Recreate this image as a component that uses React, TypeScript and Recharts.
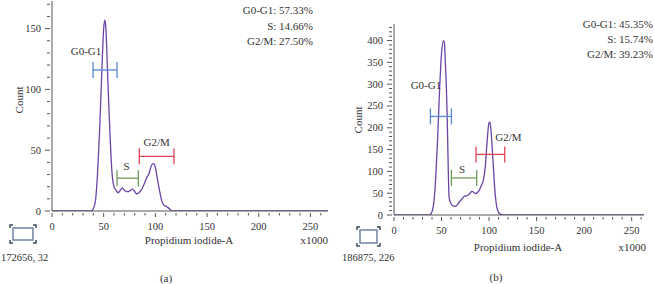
import React from 'react';
import { ComposedChart, Line, XAxis, YAxis, ReferenceLine } from 'recharts';

const FONT = '"Liberation Serif", "DejaVu Serif", serif';
const AXIS = '#555';
const TEXT = '#333';
const CURVE = '#6a45a8';

// panel (a): PI-A channel (x1000) vs count
const piA = [0, 20, 38, 40, 42, 44, 46, 48, 50, 51, 52, 54, 56, 58, 60, 62, 64, 66, 68, 70, 72, 74, 76, 78, 80, 82, 84, 86, 88, 90, 92, 94, 96, 98, 100, 102, 104, 106, 108, 110, 112, 114, 116, 120, 200, 267];
const countA = [0, 0, 0, 2, 8, 30, 65, 110, 150, 157, 152, 108, 65, 32, 20, 17, 15, 17, 19, 17, 16, 16, 17, 18, 16, 14, 15, 17, 20, 24, 28, 31, 37, 39, 36, 26, 17, 9, 5, 4, 3, 1.5, 0, 0, 0, 0];

// panel (b)
const piB = [0, 20, 36, 38, 40, 42, 44, 46, 48, 50, 52, 53, 54, 55, 56, 58, 60, 62, 64, 66, 68, 70, 72, 74, 76, 78, 80, 82, 84, 86, 88, 90, 92, 94, 96, 98, 100, 101, 102, 104, 106, 108, 110, 112, 114, 120, 200, 263];
const countB = [0, 0, 0, 1, 8, 30, 90, 180, 290, 370, 400, 395, 350, 300, 220, 40, 26, 21, 20, 22, 28, 33, 38, 43, 44, 46, 50, 54, 52, 49, 52, 58, 68, 80, 110, 170, 212, 213, 195, 130, 60, 20, 6, 2, 0, 0, 0, 0];

// cell-cycle gates
const gateNames = ['G0-G1', 'S', 'G2/M'];
const gateColors = ['#5b86d4', '#6f9a5e', '#e04455'];
const gateFromA = [39.7, 62.9, 84.5];
const gateToA = [62.9, 83.5, 118];
const gateLevelA = [116, 27, 45];
const gateFromB = [38.3, 60.4, 86.3];
const gateToB = [60.4, 87, 116.5];
const gateLevelB = [226, 85, 139];

const statsA = ['G0-G1: 57.33%', 'S: 14.66%', 'G2/M: 27.50%'];
const statsB = ['G0-G1: 45.35%', 'S: 15.74%', 'G2/M: 39.23%'];

const xTicks = [0, 10, 20, 30, 40, 50, 60, 70, 80, 90, 100, 110, 120, 130, 140, 150, 160, 170, 180, 190, 200, 210, 220, 230, 240, 250, 260];
const yTicksA = [0, 10, 20, 30, 40, 50, 60, 70, 80, 90, 100, 110, 120, 130, 140, 150, 160, 170];
const yTicksB = [0, 10, 20, 30, 40, 50, 60, 70, 80, 90, 100, 110, 120, 130, 140, 150, 160, 170, 180, 190, 200, 210, 220, 230, 240, 250, 260, 270, 280, 290, 300, 310, 320, 330, 340, 350, 360, 370, 380, 390, 400, 410, 420, 430];

// label offsets (px) from the gate centre
const labelOffA = [[-19, -19], [-1, -12], [0, -14]];
const labelOffB = [[-15, -31], [-2, -9], [18, -17]];

const dataA = piA.map((x, i) => ({ x, count: countA[i] }));
const dataB = piB.map((x, i) => ({ x, count: countB[i] }));

const XTick = ({ x, y, payload }: any) => {
  const major = payload.value % 50 === 0;
  return (
    <g>
      <line x1={x} x2={x} y1={y} y2={y + (major ? 4 : 2.5)} stroke={AXIS} />
      {major && (
        <text x={x} y={y + 13} textAnchor="middle" dominantBaseline="central" fontSize={10.5} fontFamily={FONT} fill={TEXT}>
          {payload.value}
        </text>
      )}
    </g>
  );
};

const YTick = ({ x, y, payload }: any) => {
  const major = payload.value % 50 === 0;
  return (
    <g>
      <line x1={x} x2={x - (major ? 5 : 3)} y1={y} y2={y} stroke={AXIS} />
      {major && (
        <text x={x - 9} y={y} textAnchor="end" dominantBaseline="central" fontSize={10.5} fontFamily={FONT} fill={TEXT}>
          {payload.value}
        </text>
      )}
    </g>
  );
};

const gateShape = (name: string, color: string, off: number[]) => (props: any) => {
  const { x1, y1, x2, y2 } = props;
  const cx = (x1 + x2) / 2;
  return (
    <g>
      <line x1={x1} x2={x2} y1={y1} y2={y2} stroke={color} strokeWidth={1.3} />
      <line x1={x1} x2={x1} y1={y1 - 8} y2={y1 + 8} stroke={color} strokeWidth={1.3} />
      <line x1={x2} x2={x2} y1={y2 - 8} y2={y2 + 8} stroke={color} strokeWidth={1.3} />
      <text x={cx + off[0]} y={y1 + off[1]} textAnchor="middle" dominantBaseline="central" fontSize={11} fontFamily={FONT} fill={TEXT}>
        {name}
      </text>
    </g>
  );
};

const Panel = ({ data, width, height, top, yWidth, xMax, yMax, yTicks, from, to, level, offs }: any) => (
  <ComposedChart width={width} height={height} data={data} margin={{ top, right: 0, bottom: 0, left: 0 }}>
    <XAxis
      type="number"
      dataKey="x"
      domain={[0, xMax]}
      ticks={xTicks}
      interval={0}
      height={30}
      tickSize={0}
      tickLine={false}
      axisLine={{ stroke: AXIS }}
      tick={<XTick />}
      allowDataOverflow
    />
    <YAxis
      type="number"
      domain={[0, yMax]}
      ticks={yTicks}
      interval={0}
      width={yWidth}
      tickSize={0}
      tickLine={false}
      axisLine={{ stroke: AXIS }}
      tick={<YTick />}
      allowDataOverflow
    />
    <Line type="monotone" dataKey="count" stroke={CURVE} strokeWidth={1.3} dot={false} isAnimationActive={false} />
    {gateNames.map((g, i) => (
      <ReferenceLine
        key={g}
        segment={[{ x: from[i], y: level[i] }, { x: to[i], y: level[i] }]}
        shape={gateShape(g, gateColors[i], offs[i])}
        ifOverflow="visible"
      />
    ))}
  </ComposedChart>
);

const GateIcon = ({ x, y, w, h }: any) => (
  <g>
    <rect x={x} y={y} width={w} height={h} fill="#fff" stroke="#6f82a0" strokeWidth={1.5} />
    <path
      d={`M${x - 3} ${y}v-3h3 M${x + w} ${y - 3}h3v3 M${x - 3} ${y + h}v3h3 M${x + w} ${y + h + 3}h3v-3`}
      fill="none"
      stroke="#3e4c5e"
      strokeWidth={1.5}
    />
  </g>
);

const txt = { fontFamily: FONT, fontSize: 11, fill: TEXT } as const;

export default function App() {
  return (
    <div style={{ position: 'absolute', left: 0, top: 0, width: 654, height: 284, background: '#fff', fontFamily: FONT }}>
      <div style={{ position: 'absolute', left: 0, top: 0 }}>
        <Panel
          data={dataA}
          width={328}
          height={241}
          top={1}
          yWidth={52}
          xMax={267}
          yMax={172.7}
          yTicks={yTicksA}
          from={gateFromA}
          to={gateToA}
          level={gateLevelA}
          offs={labelOffA}
        />
      </div>
      <div style={{ position: 'absolute', left: 340, top: 0 }}>
        <Panel
          data={dataB}
          width={304}
          height={245}
          top={24}
          yWidth={54}
          xMax={263}
          yMax={438}
          yTicks={yTicksB}
          from={gateFromB}
          to={gateToB}
          level={gateLevelB}
          offs={labelOffB}
        />
      </div>
      <svg width={654} height={284} style={{ position: 'absolute', left: 0, top: 0, pointerEvents: 'none' }}>
        {statsA.map((s, i) => (
          <text key={s} x={313} y={10 + i * 15.6} textAnchor="end" dominantBaseline="central" {...txt}>{s}</text>
        ))}
        {statsB.map((s, i) => (
          <text key={s} x={653} y={24 + i * 15.2} textAnchor="end" dominantBaseline="central" {...txt}>{s}</text>
        ))}
        <text x={19} y={100} textAnchor="middle" dominantBaseline="central" transform="rotate(-90 19 100)" {...txt}>Count</text>
        <text x={358} y={120} textAnchor="middle" dominantBaseline="central" transform="rotate(-90 358 120)" {...txt}>Count</text>
        <text x={189} y={240} textAnchor="middle" dominantBaseline="central" {...txt}>Propidium iodide-A</text>
        <text x={328} y={240} textAnchor="end" dominantBaseline="central" {...txt}>x1000</text>
        <text x={518} y={247} textAnchor="middle" dominantBaseline="central" {...txt}>Propidium iodide-A</text>
        <text x={646} y={247} textAnchor="end" dominantBaseline="central" {...txt}>x1000</text>
        <GateIcon x={13} y={228} w={20} h={12} />
        <GateIcon x={360} y={230} w={17} h={13} />
        <text x={1} y={257} textAnchor="start" dominantBaseline="central" {...txt} fontSize={10.5}>172656, 32</text>
        <text x={342} y={257} textAnchor="start" dominantBaseline="central" {...txt} fontSize={10.5}>186875, 226</text>
        <text x={166} y={278} textAnchor="middle" dominantBaseline="central" {...txt}>(a)</text>
        <text x={496} y={277} textAnchor="middle" dominantBaseline="central" {...txt}>(b)</text>
      </svg>
    </div>
  );
}
